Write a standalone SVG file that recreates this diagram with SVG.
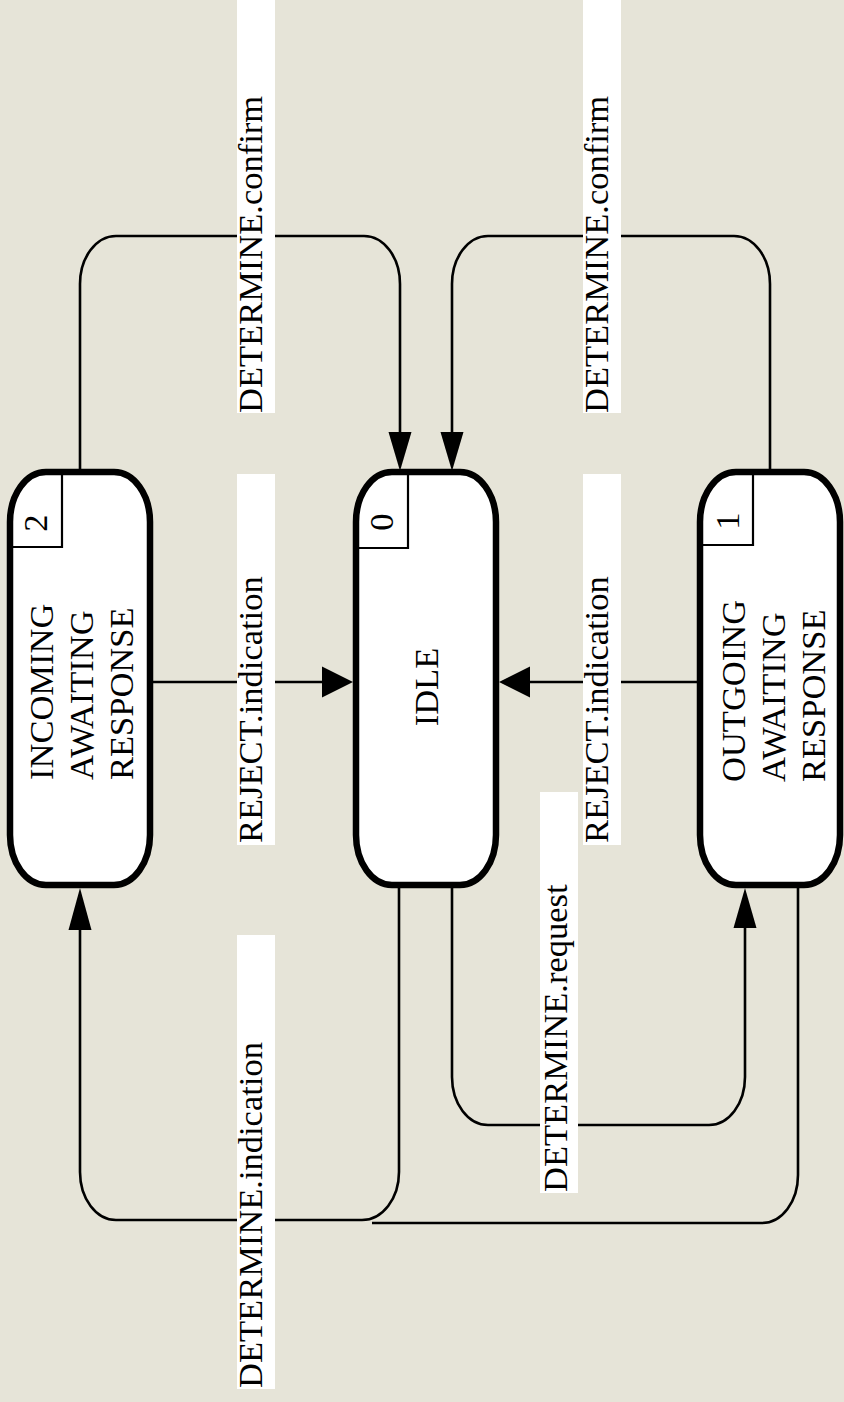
<svg xmlns="http://www.w3.org/2000/svg" width="844" height="1402" viewBox="0 0 844 1402">
  <style>
    .bg { fill: #E6E4D8; }
    .state { fill: #FFFFFF; stroke: #000000; stroke-width: 6.5; }
    .numbox { fill: none; stroke: #000000; stroke-width: 2.2; }
    .wire { fill: none; stroke: #000000; stroke-width: 2.6; }
    .head { fill: #000000; stroke: none; }
    .tag { fill: #FFFFFF; stroke: none; }
    text { font-family: "Liberation Serif", "Times New Roman", serif; font-size: 34.5px; fill: #000000; }
    .mid { text-anchor: middle; }
  </style>

  <rect class="bg" x="0" y="0" width="844" height="1402"/>

  <!-- transitions -->
  <g id="connectors">
    <!-- INCOMING -> IDLE (DETERMINE.confirm) -->
    <path class="wire" d="M80,472 V284 A36,48 0 0 1 116,236 H364 A36,48 0 0 1 400,284 V434"/>
    <polygon class="head" points="388.5,432 411.5,432 400,471"/>
    <!-- OUTGOING -> IDLE (DETERMINE.confirm) -->
    <path class="wire" d="M770,472 V284 A36,48 0 0 0 734,236 H488 A36,48 0 0 0 452,284 V434"/>
    <polygon class="head" points="440.5,432 463.5,432 452,471"/>
    <!-- INCOMING -> IDLE (REJECT.indication) -->
    <path class="wire" d="M150,682 H324"/>
    <polygon class="head" points="322,666.5 322,697.5 353,682"/>
    <!-- OUTGOING -> IDLE (REJECT.indication) -->
    <path class="wire" d="M700,682 H528"/>
    <polygon class="head" points="530,666.5 530,697.5 499,682"/>
    <!-- IDLE -> OUTGOING (DETERMINE.request) -->
    <path class="wire" d="M452,885 V1077 A36,48 0 0 0 488,1125 H709 A36,48 0 0 0 745,1077 V926"/>
    <polygon class="head" points="733.5,928 756.5,928 745,888"/>
    <!-- IDLE / OUTGOING -> INCOMING (DETERMINE.indication) -->
    <path class="wire" d="M399,885 V1172 A37,48 0 0 1 362,1220 H116 A36,48 0 0 1 80,1172 V928"/>
    <polygon class="head" points="68.5,930 91.5,930 80,888"/>
    <path class="wire" d="M798,885 V1175 A36,48 0 0 1 762,1223 H372"/>
  </g>

  <!-- transition labels -->
  <g id="labels">
    <rect class="tag" x="237" y="0" width="38" height="413"/>
    <text transform="translate(262,413) rotate(-90)">DETERMINE.confirm</text>
    <rect class="tag" x="583" y="0" width="38" height="413"/>
    <text transform="translate(608,413) rotate(-90)">DETERMINE.confirm</text>
    <rect class="tag" x="237" y="474" width="38" height="371"/>
    <text transform="translate(262,843) rotate(-90)">REJECT.indication</text>
    <rect class="tag" x="583" y="474" width="38" height="371"/>
    <text transform="translate(608,843) rotate(-90)">REJECT.indication</text>
    <rect class="tag" x="540" y="792" width="38" height="401"/>
    <text transform="translate(567,1192) rotate(-90)">DETERMINE.request</text>
    <rect class="tag" x="237" y="935" width="38" height="454"/>
    <text transform="translate(262,1388) rotate(-90)">DETERMINE.indication</text>
  </g>

  <!-- state 2 -->
  <g id="state-incoming">
    <rect class="state" x="10" y="472" width="140" height="413" rx="36" ry="50"/>
    <path class="numbox" d="M62,472 V547 H10"/>
    <text class="mid" transform="translate(47,523) rotate(-90)">2</text>
    <text transform="translate(53,780) rotate(-90)">INCOMING</text>
    <text transform="translate(93,780) rotate(-90)">AWAITING</text>
    <text transform="translate(133,780) rotate(-90)">RESPONSE</text>
  </g>

  <!-- state 0 -->
  <g id="state-idle">
    <rect class="state" x="356" y="472" width="140" height="413" rx="36" ry="50"/>
    <path class="numbox" d="M408,472 V548 H356"/>
    <text class="mid" transform="translate(393,522) rotate(-90)">0</text>
    <text class="mid" transform="translate(438,687) rotate(-90)">IDLE</text>
  </g>

  <!-- state 1 -->
  <g id="state-outgoing">
    <rect class="state" x="700" y="472" width="140" height="413" rx="36" ry="50"/>
    <path class="numbox" d="M753,472 V545 H700"/>
    <text class="mid" transform="translate(739,521) rotate(-90)">1</text>
    <text transform="translate(745,782) rotate(-90)">OUTGOING</text>
    <text transform="translate(785,782) rotate(-90)">AWAITING</text>
    <text transform="translate(825,782) rotate(-90)">RESPONSE</text>
  </g>
</svg>
